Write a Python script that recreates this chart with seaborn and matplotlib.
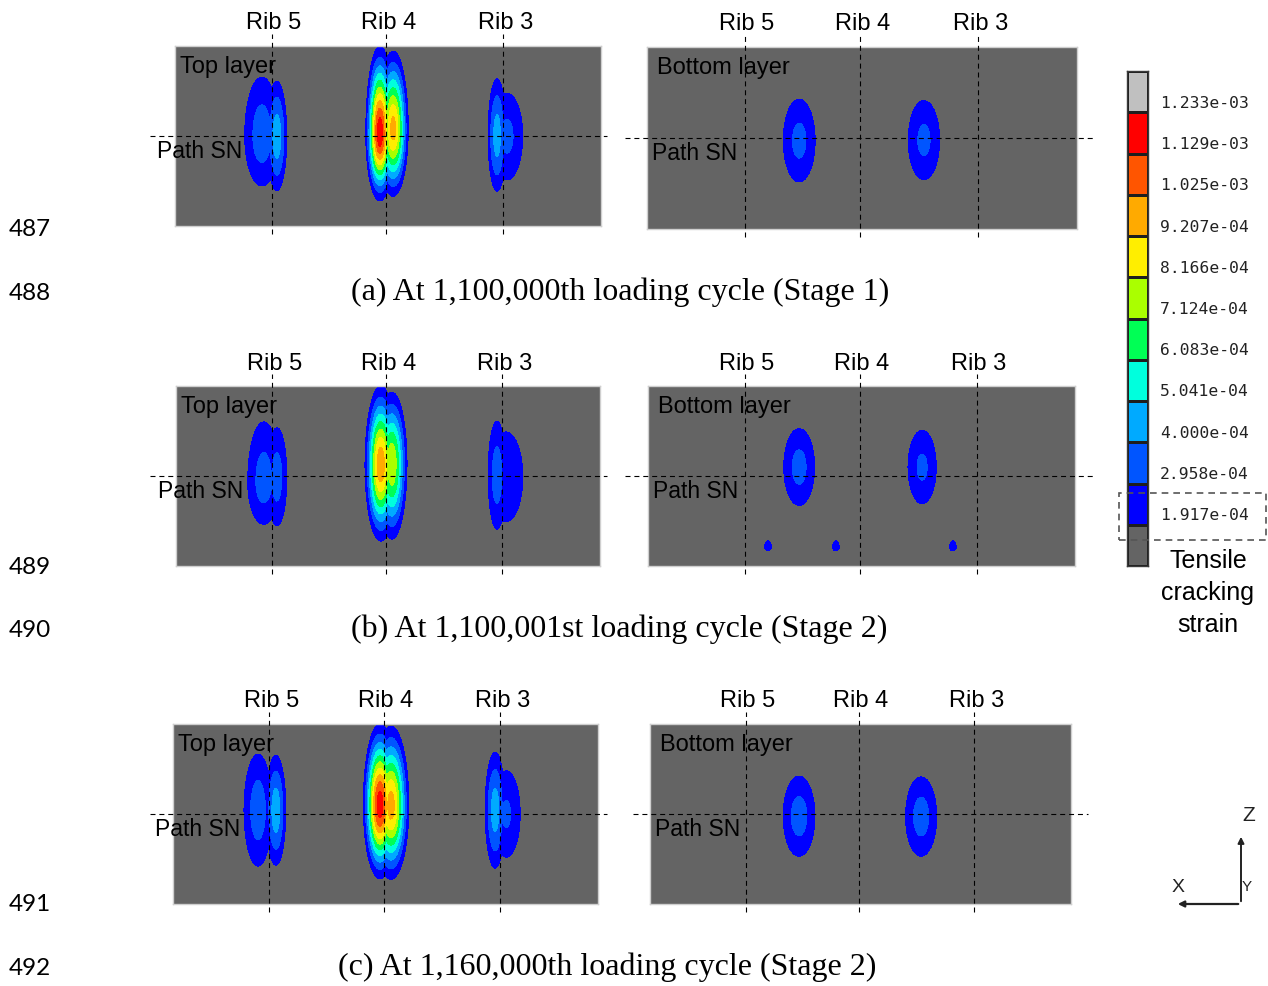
import numpy as np
import matplotlib
matplotlib.use("Agg")
import matplotlib.pyplot as plt
from matplotlib.colors import ListedColormap
from matplotlib.patches import Rectangle, FancyArrowPatch
import pandas as pd
import seaborn as sns

# ---------------------------------------------------------------- data
# Legend levels of the tensile cracking strain (upper band first)
LEVEL_LABELS = ["1.233e-03", "1.129e-03", "1.025e-03", "9.207e-04", "8.166e-04",
                "7.124e-04", "6.083e-04", "5.041e-04", "4.000e-04", "2.958e-04",
                "1.917e-04"]
LEVELS = [1.917e-4, 2.958e-4, 4.000e-4, 5.041e-4, 6.083e-4, 7.124e-4,
          8.166e-4, 9.207e-4, 1.025e-3, 1.129e-3, 1.233e-3]
# band colours from the lowest cracked band up to the over-range band
BAND_COLORS = ["#0000FF", "#0055FF", "#00AAFF", "#00FFDD", "#00FF55", "#AAFF00",
               "#FFEE00", "#FFAA00", "#FF5500", "#FF0000", "#C0C0C0"]
UNCRACKED = "#646464"

RIB_NAMES = ["Rib 5", "Rib 4", "Rib 3"]
RIB_X = [22.7, 49.6, 77.0]          # rib positions across the slab
PATH_Z = 21.1                       # height of path SN
SLAB_W, SLAB_H = 100.0, 42.2

# cracking-strain lobes: (x, z, spread_x, spread_up, spread_down, peak strain)
TOP_A = [(20.4, 21.1, 5.2, 17.8, 15.1, 3.5e-4),
         (23.9, 20.9, 2.5, 14.0, 13.5, 4.6e-4),
         (48.1, 21.6, 2.45, 15.2, 11.6, 1.20e-3),
         (51.2, 22.7, 2.8, 14.4, 12.4, 9.6e-4),
         (75.6, 21.1, 2.3, 14.5, 14.0, 4.5e-4),
         (77.9, 21.1, 5.2, 14.0, 14.4, 3.2e-4)]
BOTTOM_A = [(35.4, 20.5, 5.1, 13.2, 13.2, 3.25e-4),
            (64.4, 20.6, 5.1, 12.8, 12.8, 3.2e-4)]
TOP_B = [(20.7, 19.7, 5.0, 18.6, 13.1, 3.4e-4),
         (23.8, 20.9, 3.1, 15.2, 15.2, 3.4e-4),
         (48.3, 23.7, 2.9, 14.4, 13.9, 1.0e-3),
         (50.9, 24.0, 3.0, 14.0, 14.8, 8.0e-4),
         (75.7, 21.3, 2.7, 16.3, 16.3, 3.5e-4),
         (77.8, 20.9, 6.5, 17.1, 17.1, 2.8e-4)]
BOTTOM_B = [(35.4, 23.2, 4.9, 12.2, 12.2, 3.3e-4),
            (64.2, 23.2, 4.7, 12.2, 12.2, 3.15e-4),
            (28.1, 4.4, 1.5, 2.9, 1.6, 2.5e-4),
            (44.0, 4.4, 1.5, 2.9, 1.6, 2.5e-4),
            (71.4, 4.4, 1.5, 2.9, 1.6, 2.5e-4)]
TOP_C = [(20.0, 22.0, 4.25, 16.9, 16.9, 3.5e-4),
         (24.2, 22.0, 2.5, 13.8, 13.8, 4.6e-4),
         (48.7, 23.2, 2.9, 14.1, 12.8, 1.19e-3),
         (51.3, 23.0, 3.3, 14.7, 13.5, 9.7e-4),
         (75.8, 22.0, 2.55, 14.7, 14.7, 4.5e-4),
         (78.4, 21.1, 4.75, 14.6, 14.6, 3.1e-4)]
BOTTOM_C = [(35.4, 20.6, 5.0, 12.45, 12.45, 3.39e-4),
            (64.4, 20.5, 4.9, 12.3, 12.3, 3.39e-4)]

CAPTIONS = ["(a) At 1,100,000th loading cycle (Stage 1)",
            "(b) At 1,100,001st loading cycle (Stage 2)",
            "(c) At 1,160,000th loading cycle (Stage 2)"]
LINE_NUMBERS = ["487", "488", "489", "490", "491", "492"]

# ---------------------------------------------------------------- layout
W, H = 1268, 987
sns.set_theme(style="white")
plt.rcParams["font.family"] = ["Liberation Sans", "DejaVu Sans"]
fig = plt.figure(figsize=(W / 100, H / 100), dpi=100)
fig.patch.set_facecolor("white")


def fx(px):
    return px / W


def fy(py):
    return 1 - py / H


def px_axes(left, top, right, bottom):
    return fig.add_axes([fx(left), fy(bottom), (right - left) / W, (bottom - top) / H])


def strain_field(lobes, X, Z):
    F = np.zeros_like(X)
    for x0, z0, sx, su, sd, pk in lobes:
        dz = Z - z0
        sz = np.where(dz > 0, su, sd)
        F = np.maximum(F, pk * np.exp(-((X - x0) / sx) ** 2 - (dz / sz) ** 2))
    return F


xs = np.linspace(0, SLAB_W, 900)
zs = np.linspace(0, SLAB_H, 380)
X, Z = np.meshgrid(xs, zs)

DASH = (0, (4.5, 3.5))

# panel rectangles (left, top, right, bottom) in pixels, with path-line span
panels = [
    (TOP_A, "Top layer", (175, 47, 601, 227), (150, 607)),
    (BOTTOM_A, "Bottom layer", (647, 48, 1077, 230), (625, 1095)),
    (TOP_B, "Top layer", (176, 387, 600, 567), (150, 607)),
    (BOTTOM_B, "Bottom layer", (648, 387, 1075, 567), (625, 1095)),
    (TOP_C, "Top layer", (173, 725, 598, 905), (150, 607)),
    (BOTTOM_C, "Bottom layer", (650, 725, 1071, 905), (633, 1088)),
]

for lobes, layer, (l, t, r, b), (p0, p1) in panels:
    ax = px_axes(l, t, r, b)
    ax.set_facecolor(UNCRACKED)
    F = strain_field(lobes, X, Z)
    ax.contourf(X, Z, F, levels=LEVELS + [1.0], colors=BAND_COLORS)
    ax.set_xlim(0, SLAB_W)
    ax.set_ylim(0, SLAB_H)
    ax.set_xticks([])
    ax.set_yticks([])
    for sp in ax.spines.values():
        sp.set_visible(True)
        sp.set_color("#cfcfcf")
        sp.set_linewidth(1.0)
    hpx = b - t
    wpx = r - l
    tx = ax.get_xaxis_transform()
    ty = ax.get_yaxis_transform()
    for rx, name in zip(RIB_X, RIB_NAMES):
        ax.plot([rx, rx], [-8 / hpx, 1 + 12 / hpx], transform=tx, color="black",
                lw=0.8, ls=DASH, clip_on=False, zorder=5)
        ax.text(rx + 0.5, 1 + 23.5 / hpx, name, transform=tx, ha="center",
                va="center", fontsize=17, color="black")
    ax.plot([(p0 - l) / wpx, (p1 - l) / wpx], [PATH_Z, PATH_Z], transform=ty,
            color="black", lw=0.8, ls=DASH, clip_on=False, zorder=5)
    if layer == "Top layer":
        ax.text(1.1, SLAB_H - 4.6, layer, ha="left", va="center", fontsize=17,
                color="black", zorder=6)
        ax.text(-4.3, PATH_Z - 3.3, "Path SN", ha="left", va="center",
                fontsize=16.5, color="black", zorder=6, clip_on=False)
    else:
        ax.text(2.4, SLAB_H - 4.7, layer, ha="left", va="center", fontsize=17,
                color="black", zorder=6)
        ax.text(1.2, PATH_Z - 3.3, "Path SN", ha="left", va="center",
                fontsize=16.5, color="black", zorder=6)

# captions and line numbers
for cap, (cx, cy) in zip(CAPTIONS, [(620, 292), (619, 629), (607, 967)]):
    fig.text(fx(cx), fy(cy), cap, ha="center", va="center", fontsize=23,
             family=["Liberation Serif", "DejaVu Serif"], color="black")
for num, ny in zip(LINE_NUMBERS, [227, 292, 565, 629, 903, 967]):
    fig.text(fx(9), fy(ny + 2), num, ha="left", va="center", fontsize=17.5,
             family=["Lato", "DejaVu Sans"], color="black")

# ---------------------------------------------------------------- legend
legend_colors = BAND_COLORS[::-1] + [UNCRACKED]
legend_df = pd.DataFrame({"band": np.arange(len(legend_colors))})
cb_top, cb_bot = 72, 567
cax = px_axes(1127, cb_top, 1148, cb_bot)
sns.heatmap(legend_df, ax=cax, cmap=ListedColormap(legend_colors), cbar=False,
            linewidths=0.9, linecolor="#1e1e1e", xticklabels=False,
            yticklabels=False, vmin=-0.5, vmax=len(legend_colors) - 0.5)
for sp in cax.spines.values():
    sp.set_visible(True)
    sp.set_color("#3a3a3a")
    sp.set_linewidth(1.0)
row_px = (cb_bot - cb_top) / len(legend_colors)
for i, lab in enumerate(LEVEL_LABELS):
    cax.text(1 + 12 / 21, i + 1 - 10 / row_px, lab, ha="left", va="center",
             fontsize=11.8, family="DejaVu Sans Mono", color="#222222",
             clip_on=False)

fig.add_artist(Rectangle((fx(1119), fy(541)), 147 / W, 47 / H, fill=False,
                         ls=(0, (4, 3)), ec="#555555", lw=1.2,
                         transform=fig.transFigure))
for txt, ty_ in zip(["Tensile", "cracking", "strain"], [561, 593, 625]):
    fig.text(fx(1208), fy(ty_), txt, ha="center", va="center", fontsize=18,
             color="black")

# ---------------------------------------------------------------- triad
ox, oy = 1241, 905
fig.add_artist(FancyArrowPatch((fx(ox), fy(oy)), (fx(ox), fy(835)),
                               transform=fig.transFigure, arrowstyle="-|>",
                               mutation_scale=9, color="#222222", lw=1.4))
fig.add_artist(FancyArrowPatch((fx(ox), fy(oy)), (fx(1175), fy(oy)),
                               transform=fig.transFigure, arrowstyle="-|>",
                               mutation_scale=9, color="#222222", lw=1.6))
fig.text(fx(1249), fy(816), "Z", ha="center", va="center", fontsize=15,
         color="#222222")
fig.text(fx(1178), fy(888), "X", ha="center", va="center", fontsize=14,
         color="#222222")
fig.text(fx(1247), fy(887), "Y", ha="center", va="center", fontsize=11,
         color="#222222")

fig.savefig("out.png", dpi=100, facecolor="white")
